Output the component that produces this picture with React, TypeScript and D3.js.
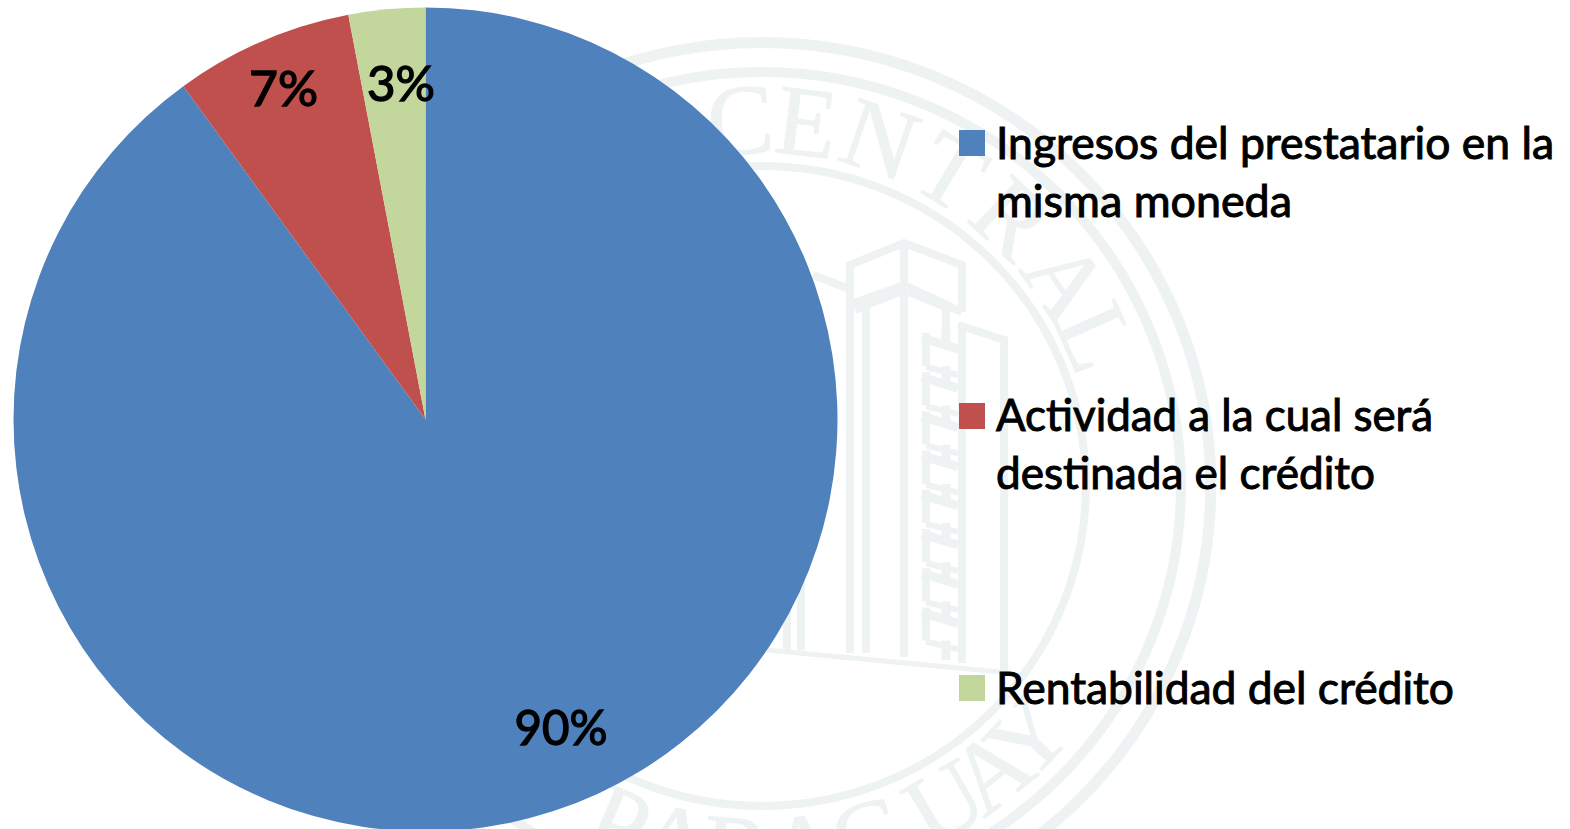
import React from "react";
import * as d3 from "d3";

const categories = [
  "Ingresos del prestatario en la misma moneda",
  "Actividad a la cual será destinada el crédito",
  "Rentabilidad del crédito",
];
const values = [90, 7, 3];
const colors = ["#4f81bd", "#c0504d", "#c3d69b"];

const WIDTH = 1570;
const HEIGHT = 829;
const FONT = "Lato, 'Open Sans', sans-serif";
const INK = "#000";
const SEAL = "#eef2f3";

// layout
const cx = 425.5;
const cy = 419.5;
const radius = 412;
const labelRadius = 335;
const labelNudge: [number, number][] = [[32, -10], [-9, -23], [7, -2]];
const labelWidths = [93, 69, 68];

const legendX = 959;
const legendTextX = 996;
const legendSwatchTops = [130, 403, 675];
const legendLines = [
  [{ t: "Ingresos del prestatario en la", w: 558, y: 159 }, { t: "misma moneda", w: 296, y: 217 }],
  [{ t: "Actividad a la cual será", w: 437, y: 431 }, { t: "destinada el crédito", w: 379, y: 489 }],
  [{ t: "Rentabilidad del crédito", w: 458, y: 704 }],
];

// watermark seal
const sealCx = 762;
const sealCy = 486;
const sealStretch = 1.012;
const rings = [
  { r: 443.5, w: 11 },
  { r: 414, w: 10 },
  { r: 320, w: 8 },
];
const sealTop: [string, number][] = [["C", -3.4], ["E", 7], ["N", 18.8], ["T", 31], ["R", 43], ["A", 56], ["L", 66]];
const sealBottom: [string, number][] = [["P", -23], ["A", -14], ["R", -4], ["A", 6.6], ["G", 17], ["U", 30], ["A", 38.8], ["Y", 46.7]];
const sealTextR = 366;

const buildingPaths = [
  "M850 653 L850 265 L904 243 L962 265 L962 312",
  "M851 304 L904 285 L962 312",
  "M904 243 L904 657",
  "M855 310 L866 305 L866 653",
  "M866 305 L900 292 M909 292 L946 307 L946 340",
  "M962 323 L962 663",
  "M958 325 L1004 340 L1004 673",
  "M813 275 L847 288",
  "M801 560 L801 650 M787 560 L787 650",
];
const ladderCount = 8;
const ladderTop = 333;
const ladderStep = 39.2;

function Seal() {
  const polar = (deg: number, r: number, bottom: boolean) => {
    const a = (deg * Math.PI) / 180;
    return bottom
      ? [sealCx + r * Math.sin(a), sealCy + r * Math.cos(a)]
      : [sealCx + r * Math.sin(a), sealCy - r * Math.cos(a)];
  };
  const ladder = d3.range(ladderCount).map((i) => ladderTop + i * ladderStep);
  const letter = (ch: string, deg: number, bottom: boolean, k: number) => {
    const [x, y] = polar(deg, sealTextR, bottom);
    const rot = bottom ? -deg : deg;
    return (
      <text
        key={`${bottom ? "b" : "t"}${k}`}
        transform={`translate(${x},${y}) rotate(${rot})`}
        textAnchor="middle"
        dy="0.33em"
        fontFamily="'Liberation Serif', serif"
        fontSize={100}
        fill={SEAL}
        stroke={SEAL}
        strokeWidth={1}
      >
        {ch}
      </text>
    );
  };
  return (
    <g>
      {rings.map((d) => (
        <ellipse
          key={d.r}
          cx={sealCx}
          cy={sealCy}
          rx={d.r * sealStretch}
          ry={d.r}
          fill="none"
          stroke={SEAL}
          strokeWidth={d.w}
        />
      ))}
      {sealTop.map(([c, a], k) => letter(c, a, false, k))}
      {sealBottom.map(([c, a], k) => letter(c, a, true, k))}
      <g fill="none" stroke={SEAL} strokeWidth={8}>
        {buildingPaths.map((d) => (
          <path key={d} d={d} />
        ))}
        <path d="M767 650 L1011 673" strokeWidth={5} />
        {ladder.map((y0) => (
          <g key={y0}>
            <path d={`M926 ${y0} L926 ${y0 + 33}`} />
            <path d={`M922 ${y0 + 5} L958 ${y0 + 16}`} strokeWidth={9} />
            <path d={`M946 ${y0 - 6} L946 ${y0 + 12}`} strokeWidth={9} />
            <path d={`M926 ${y0 + 34} L958 ${y0 + 42}`} strokeWidth={6} />
          </g>
        ))}
        <path d={`M946 ${ladderTop + ladderCount * ladderStep - 6} L946 660`} strokeWidth={9} />
      </g>
    </g>
  );
}

export default function App() {
  const pie = d3.pie<number>().sort(null).startAngle(0).endAngle(2 * Math.PI);
  const arcs = pie(values);
  const arc = d3.arc<d3.PieArcDatum<number>>().innerRadius(0).outerRadius(radius);
  const labelArc = d3.arc<d3.PieArcDatum<number>>().innerRadius(labelRadius).outerRadius(labelRadius);
  const fmt = (v: number) => `${v}%`;

  return (
    <svg
      width={WIDTH}
      height={HEIGHT}
      viewBox={`0 0 ${WIDTH} ${HEIGHT}`}
      style={{ position: "absolute", left: 0, top: 0, display: "block", background: "#fff" }}
    >
      <title>{categories.join(" / ")}</title>
      <Seal />
      <g transform={`translate(${cx},${cy})`}>
        {arcs.map((d, i) => (
          <path key={i} d={arc(d) || ""} fill={colors[i]} />
        ))}
        {arcs.map((d, i) => {
          const [x, y] = labelArc.centroid(d);
          return (
            <text
              key={i}
              x={x + labelNudge[i][0]}
              y={y + labelNudge[i][1] + 17}
              textAnchor="middle"
              fontFamily={FONT}
              fontSize={49}
              fill={INK}
              stroke={INK}
              strokeWidth={1.4}
              textLength={labelWidths[i]}
              lengthAdjust="spacingAndGlyphs"
            >
              {fmt(values[i])}
            </text>
          );
        })}
      </g>
      {categories.map((c, i) => (
        <g key={c}>
          <rect x={legendX} y={legendSwatchTops[i]} width={26} height={26} fill={colors[i]} />
          {legendLines[i].map((l) => (
            <text
              key={l.t}
              x={legendTextX}
              y={l.y}
              fontFamily={FONT}
              fontSize={44}
              fill={INK}
              stroke={INK}
              strokeWidth={1}
              textLength={l.w}
              lengthAdjust="spacingAndGlyphs"
            >
              {l.t}
            </text>
          ))}
        </g>
      ))}
    </svg>
  );
}
